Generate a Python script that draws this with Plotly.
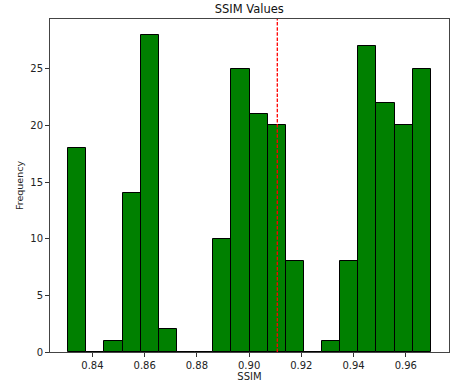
import plotly.graph_objects as go

# Histogram data (20 bins)
bin_start = 0.8307
bin_width = 0.006945
counts = [18, 0, 1, 14, 28, 2, 0, 0, 10, 25, 21, 20, 8, 0, 1, 8, 27, 22, 20, 25]
mean_ssim = 0.9108
x_ticks = [0.84, 0.86, 0.88, 0.90, 0.92, 0.94, 0.96]
x_tick_labels = ["0.84", "0.86", "0.88", "0.90", "0.92", "0.94", "0.96"]
y_ticks = [0, 5, 10, 15, 20, 25]

centers = [bin_start + (i + 0.5) * bin_width for i in range(len(counts))]
bin_end = bin_start + len(counts) * bin_width
pad = 0.05 * (bin_end - bin_start)

fig = go.Figure()
fig.add_trace(go.Bar(
    x=centers, y=counts, width=[bin_width] * len(counts),
    marker=dict(color="green", line=dict(color="black", width=1)),
    showlegend=False, hoverinfo="x+y",
))
fig.add_shape(type="line", x0=mean_ssim, x1=mean_ssim, y0=0, y1=1,
              xref="x", yref="paper",
              line=dict(color="#ff0000", width=1.3, dash="3.5px,1.6px"))

font = "DejaVu Sans, sans-serif"
fig.update_layout(
    width=454, height=385,
    margin=dict(l=50, r=5, t=19, b=33, autoexpand=False),
    paper_bgcolor="white", plot_bgcolor="white",
    bargap=0,
    font=dict(family=font, size=10, color="#222222"),
    title=dict(text="SSIM Values", x=0.549, xanchor="center", y=0.977, yanchor="middle",
               font=dict(family=font, size=11.5, color="#111111")),
    xaxis=dict(
        range=[bin_start - pad, bin_end + pad],
        tickvals=x_ticks, ticktext=x_tick_labels,
        ticks="outside", ticklen=4, tickcolor="#333333", tickwidth=1,
        showline=True, linecolor="#444444", linewidth=1, mirror=True,
        showgrid=False, zeroline=False, automargin=False,
        tickfont=dict(size=10, color="#222222"),
        title=dict(text="SSIM", font=dict(size=10, color="#222222"), standoff=0),
    ),
    yaxis=dict(
        range=[0, 29.4],
        tickvals=y_ticks,
        ticks="outside", ticklen=4, tickcolor="#333333", tickwidth=1,
        showline=True, linecolor="#444444", linewidth=1, mirror=True,
        showgrid=False, zeroline=False, automargin=False,
        tickfont=dict(size=10, color="#222222"),
        title=dict(text="Frequency", font=dict(size=9.5, color="#222222"), standoff=4),
    ),
)

fig.write_html("out.html", config={"displayModeBar": False},
               post_script="document.body.style.margin='0px';document.body.style.overflow='hidden';")
